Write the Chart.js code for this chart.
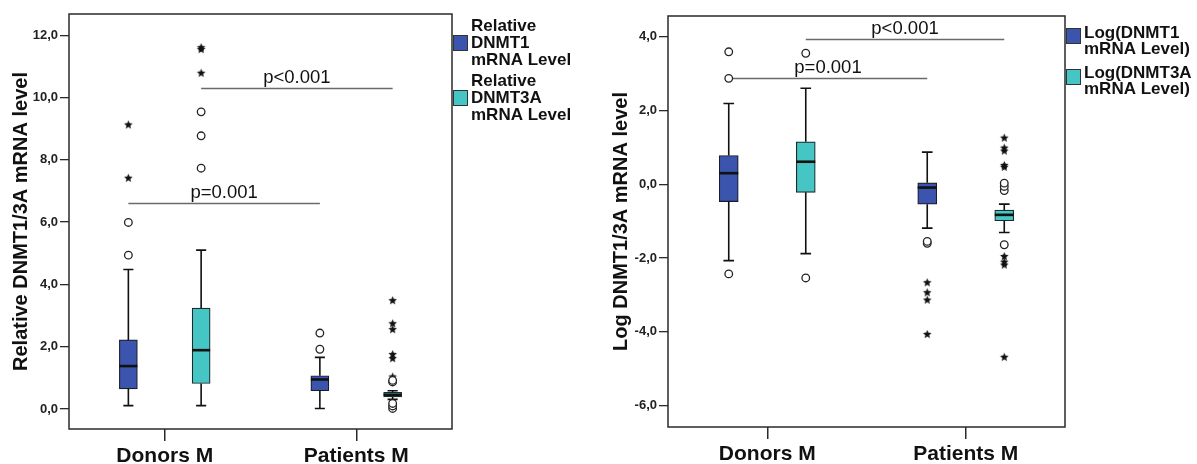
<!DOCTYPE html>
<html>
<head>
<meta charset="utf-8">
<script src="https://cdn.jsdelivr.net/npm/chart.js@4.4.1/dist/chart.umd.min.js"></script>
<style>
    body { margin: 0; background: #fff; width: 1197px; height: 464px; overflow: hidden; position: relative; }
    canvas { position: absolute; top: 0; }
    #graficoRel { left: 0; }
    #graficoLog { left: 600px; }
</style>
</head>
<body>
<canvas id="graficoRel" width="600" height="464"></canvas>
<canvas id="graficoLog" width="597" height="464"></canvas>
<script>
// ------------------------------------------------------------------------------
// Datos
// resumen por categoria: [bigote inf, Q1, mediana, Q3, bigote sup]
// ------------------------------------------------------------------------------
const categorias = ['Donors M', 'Patients M'];

const relDnmt1 = [[0.11, 0.65, 1.38, 2.22, 4.48], [0.02, 0.59, 0.95, 1.07, 1.66]];
const relDnmt3a = [[0.11, 0.82, 1.89, 3.24, 5.10], [0.31, 0.39, 0.46, 0.54, 0.59]];
const relDnmt1Circ = [[4.94, 5.99], [1.92, 2.44]];
const relDnmt1Star = [[7.41, 9.12], []];
const relDnmt3aCirc = [[7.73, 8.77, 9.54], [0.02, 0.10, 0.18, 0.87, 0.92]];
const relDnmt3aStar = [[10.78, 11.54, 11.60], [1.03, 1.62, 1.75, 2.55, 2.74, 3.48]];
const relTicks = [0, 2, 4, 6, 8, 10, 12];
const relRango = [-0.64, 12.68];
const relLeyenda = [['Relative', 'DNMT1', 'mRNA Level'], ['Relative', 'DNMT3A', 'mRNA Level']];
const relTitulo = 'Relative DNMT1/3A mRNA level';
const relPval = [['p=0.001', 0, 6.60], ['p<0.001', 1, 10.31]];

const logDnmt1 = [[-2.07, -0.47, 0.30, 0.78, 2.19], [-1.19, -0.54, -0.09, 0.04, 0.87]];
const logDnmt3a = [[-1.88, -0.22, 0.61, 1.15, 2.60], [-1.31, -0.99, -0.83, -0.70, -0.54]];
const logDnmt1Circ = [[-2.43, 2.87, 3.59], [-1.60, -1.55]];
const logDnmt1Star = [[], [-4.07, -3.14, -2.94, -2.67]];
const logDnmt3aCirc = [[-2.54, 3.55], [-1.64, -0.17, -0.06, 0.03]];
const logDnmt3aStar = [[], [-4.69, -2.19, -2.11, -1.96, 0.46, 0.51, 0.90, 0.98, 1.25]];
const logTicks = [-6, -4, -2, 0, 2, 4];
const logRango = [-6.58, 4.56];
const logLeyenda = [['Log(DNMT1', 'mRNA Level)'], ['Log(DNMT3A', 'mRNA Level)']];
const logTitulo = 'Log DNMT1/3A mRNA level';
const logPval = [['p=0.001', 0, 2.87], ['p<0.001', 1, 3.95]];

// Colores
const azul = '#3b55ae';
const turquesa = '#45c5c3';
const linea = '#2a2a2a';
const fuente = "'Liberation Sans', Arial, sans-serif";

Chart.defaults.font.family = fuente;

// estrella rellena para los extremos
function estrella(r) {
    const c = document.createElement('canvas');
    c.width = c.height = 2 * r + 2;
    const g = c.getContext('2d');
    g.fillStyle = '#111';
    g.beginPath();
    for (let k = 0; k < 10; k++) {
        const rr = k % 2 ? r * 0.45 : r;
        const ang = -Math.PI / 2 + k * Math.PI / 5;
        g.lineTo(r + 1 + rr * Math.cos(ang), r + 1 + rr * Math.sin(ang));
    }
    g.closePath();
    g.fill();
    return c;
}
const imgEstrella = estrella(4.5);

// bigotes, medianas, lineas de p, marco y leyenda
const pluginCaja = {
    id: 'caja',
    beforeDatasetsDraw(chart, args, opts) {
        const ctx = chart.ctx;
        const y = chart.scales.y;
        ctx.save();
        for (let p of opts.pval) {
            const meta = chart.getDatasetMeta(p[1]);
            const x1 = meta.data[0].x, x2 = meta.data[1].x;
            const yy = Math.round(y.getPixelForValue(p[2])) + 0.5;
            ctx.strokeStyle = '#6a6a6a';
            ctx.lineWidth = 1.3;
            ctx.beginPath();
            ctx.moveTo(x1, yy);
            ctx.lineTo(x2, yy);
            ctx.stroke();
            ctx.fillStyle = '#111';
            ctx.font = "18.5px " + fuente;
            ctx.textAlign = 'center';
            ctx.textBaseline = 'middle';
            ctx.fillText(p[0], (x1 + x2) / 2, yy - 11);
        }
        ctx.restore();
    },
    afterDatasetDraw(chart, args, opts) {
        const meta = args.meta;
        if (meta.type !== 'bar') return;
        const ctx = chart.ctx;
        const y = chart.scales.y;
        const resumen = opts.resumen[args.index];
        ctx.save();
        ctx.strokeStyle = '#111';
        meta.data.forEach((bar, i) => {
            const s = resumen[i];
            const w = bar.width;
            const px = v => y.getPixelForValue(v);
            ctx.lineWidth = 1.6;
            ctx.beginPath();
            ctx.moveTo(bar.x, px(s[3])); ctx.lineTo(bar.x, px(s[4]));
            ctx.moveTo(bar.x, px(s[1])); ctx.lineTo(bar.x, px(s[0]));
            ctx.moveTo(bar.x - w * 0.28, px(s[4])); ctx.lineTo(bar.x + w * 0.28, px(s[4]));
            ctx.moveTo(bar.x - w * 0.28, px(s[0])); ctx.lineTo(bar.x + w * 0.28, px(s[0]));
            ctx.stroke();
            ctx.lineWidth = 2.6;
            ctx.beginPath();
            ctx.moveTo(bar.x - w / 2, px(s[2])); ctx.lineTo(bar.x + w / 2, px(s[2]));
            ctx.stroke();
        });
        ctx.restore();
    },
    afterDraw(chart, args, opts) {
        const ctx = chart.ctx;
        const a = chart.chartArea;
        ctx.save();
        ctx.strokeStyle = linea;
        ctx.lineWidth = 1.5;
        ctx.strokeRect(a.left, a.top, a.right - a.left, a.bottom - a.top);
        // leyenda
        const colores = [azul, turquesa];
        opts.leyenda.forEach((lineas, k) => {
            const bx = a.right + 1;
            ctx.fillStyle = colores[k];
            ctx.fillRect(bx, opts.cajaTop[k], 15, 16);
            ctx.strokeStyle = '#333';
            ctx.lineWidth = 1;
            ctx.strokeRect(bx + 0.5, opts.cajaTop[k] + 0.5, 14, 15);
            ctx.fillStyle = '#111';
            ctx.font = "bold 17px " + fuente;
            ctx.textAlign = 'left';
            ctx.textBaseline = 'middle';
            lineas.forEach((t, j) => ctx.fillText(t, bx + 18, opts.textoTop[k] + j * opts.paso));
        });
        ctx.restore();
    }
};

function crearGrafico(id, d) {
    const desp = d.desp;
    const puntos = (vals, lado) => {
        let res = [];
        vals.forEach((lista, i) => {
            for (let v of lista) res.push({ x: i + lado * desp, y: v });
        });
        return res;
    };
    const caja = (resumen, lado, color, borde) => ({
        type: 'bar', xAxisID: 'xo', order: 2, grouped: false,
        data: resumen.map((s, i) => ({ x: i + lado * desp, y: [s[1], s[3]] })),
        backgroundColor: color, borderColor: borde, borderWidth: 1.2,
        borderSkipped: false, barThickness: d.anchoCaja
    });
    const circulo = (vals, lado) => ({
        type: 'scatter', xAxisID: 'xo', order: 1, data: puntos(vals, lado),
        pointStyle: 'circle', pointRadius: 3.8, pointBackgroundColor: '#fff',
        pointBorderColor: '#222', pointBorderWidth: 1.3
    });
    const asterisco = (vals, lado) => ({
        type: 'scatter', xAxisID: 'xo', order: 1, data: puntos(vals, lado),
        pointStyle: imgEstrella, pointRadius: 4.5
    });

    return new Chart(document.getElementById(id), {
        type: 'bar',
        data: {
            labels: categorias,
            datasets: [
                caja(d.s1, -1, azul, '#1c1c2a'),
                caja(d.s2, 1, turquesa, '#1c2a2a'),
                circulo(d.c1, -1), asterisco(d.a1, -1),
                circulo(d.c2, 1), asterisco(d.a2, 1)
            ]
        },
        options: {
            responsive: false,
            animation: false,
            devicePixelRatio: 1,
            layout: { padding: { top: d.top, right: d.der, left: 0, bottom: 0 } },
            plugins: {
                legend: { display: false },
                tooltip: { enabled: false },
                caja: {
                    resumen: [d.s1, d.s2], pval: d.pval, leyenda: d.leyenda,
                    cajaTop: d.cajaTop, textoTop: d.textoTop, paso: d.paso
                }
            },
            scales: {
                x: {
                    type: 'category',
                    offset: true,
                    afterFit: s => { s.height = d.altoX; },
                    border: { display: false },
                    grid: { drawOnChartArea: false, offset: false, tickLength: 12, color: linea, lineWidth: 1.5 },
                    ticks: { color: '#111', padding: 3, font: { size: 21, weight: 'bold' } }
                },
                xo: { type: 'linear', display: false, offset: false, min: -0.5, max: 1.5 },
                y: {
                    type: 'linear',
                    min: d.rango[0], max: d.rango[1],
                    afterFit: s => { s.width = d.anchoY; },
                    afterBuildTicks: s => { s.ticks = d.ticks.map(v => ({ value: v })); },
                    border: { display: false },
                    grid: { drawOnChartArea: false, tickLength: 9, color: linea, lineWidth: 1.3 },
                    ticks: {
                        color: '#222', padding: 2,
                        font: { family: "'Liberation Sans Narrow', 'Arial Narrow', " + fuente, size: 13, weight: 'bold' },
                        callback: v => v.toFixed(1).replace('.', ',')
                    },
                    title: {
                        display: true, text: d.titulo, color: '#111',
                        font: { size: 20, weight: 'bold' }, padding: { top: 9, bottom: 0 }
                    }
                }
            }
        },
        plugins: [pluginCaja]
    });
}

crearGrafico('graficoRel', {
    s1: relDnmt1, s2: relDnmt3a, c1: relDnmt1Circ, a1: relDnmt1Star, c2: relDnmt3aCirc, a2: relDnmt3aStar,
    ticks: relTicks, rango: relRango, leyenda: relLeyenda, titulo: relTitulo, pval: relPval,
    desp: 0.19, anchoCaja: 18, top: 14, der: 148, altoX: 35, anchoY: 69,
    cajaTop: [35, 90], textoTop: [26, 81.7], paso: 17
});

crearGrafico('graficoLog', {
    s1: logDnmt1, s2: logDnmt3a, c1: logDnmt1Circ, a1: logDnmt1Star, c2: logDnmt3aCirc, a2: logDnmt3aStar,
    ticks: logTicks, rango: logRango, leyenda: logLeyenda, titulo: logTitulo, pval: logPval,
    desp: 0.194, anchoCaja: 19, top: 16, der: 132, altoX: 37, anchoY: 68,
    cajaTop: [28, 69], textoTop: [33, 73], paso: 16
});
</script>
</body>
</html>
